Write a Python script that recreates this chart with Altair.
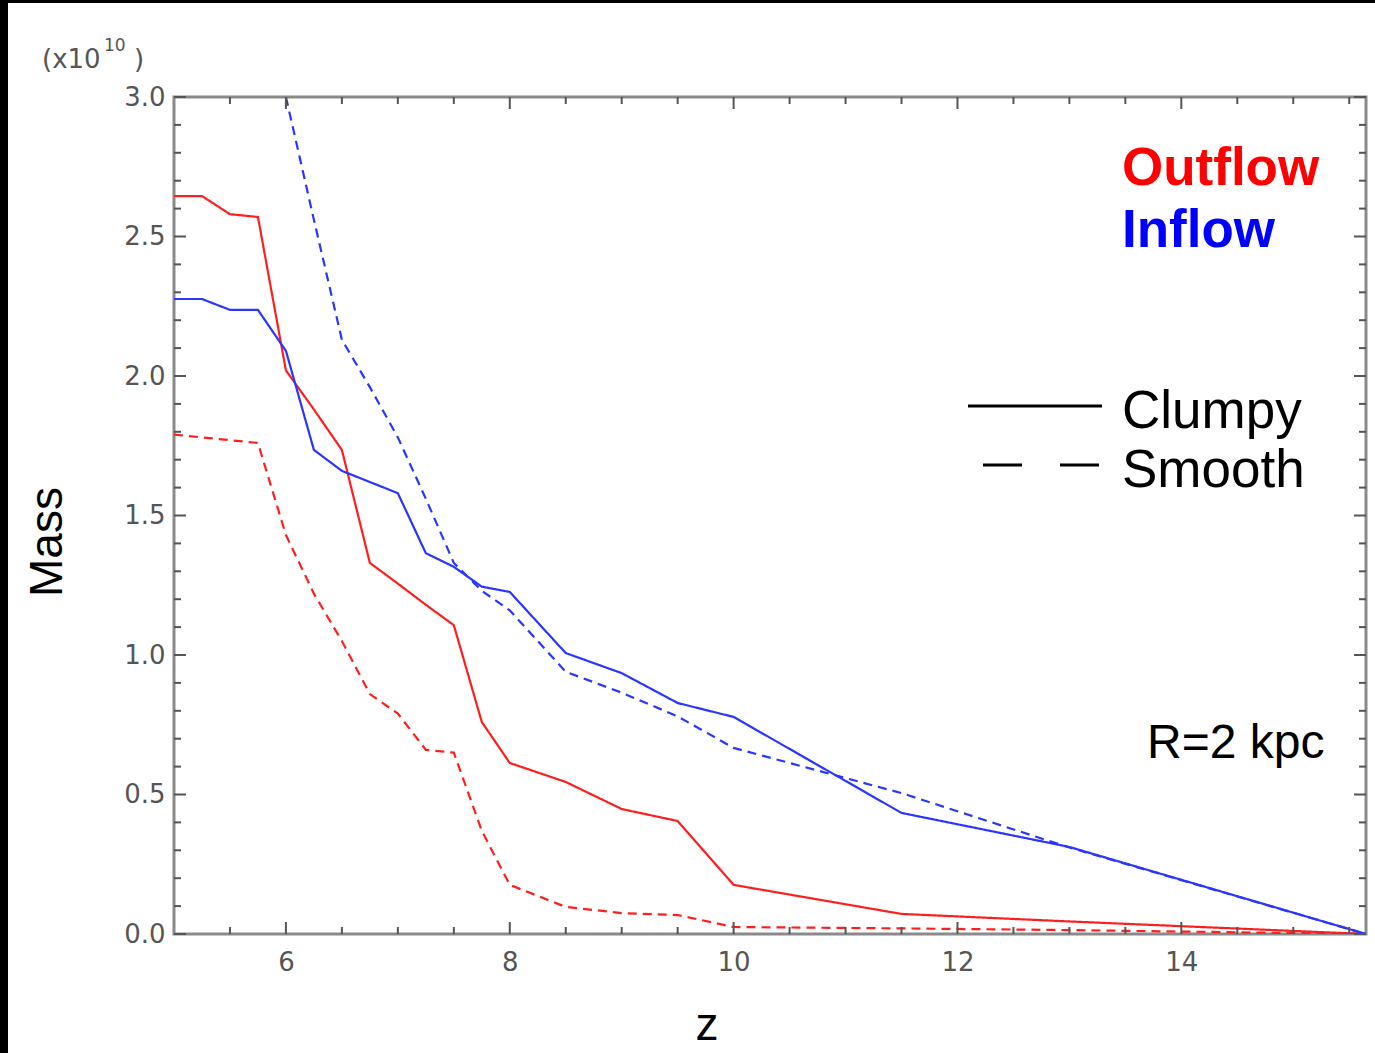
import altair as alt
import pandas as pd

# Redshift nodes of each track
z_out_clumpy = [5, 5.25, 5.5, 5.75, 6, 6.25, 6.5, 6.75, 7, 7.25, 7.5, 7.75, 8, 8.5, 9, 9.5, 10, 11.5, 13, 15.65]
m_out_clumpy = [2.645, 2.645, 2.58, 2.57, 2.02, 1.88, 1.735, 1.33, 1.256, 1.18, 1.107, 0.76, 0.613, 0.545, 0.448, 0.405, 0.176, 0.072, 0.045, 0.0]

z_out_smooth = [5, 5.25, 5.5, 5.75, 6, 6.25, 6.5, 6.75, 7, 7.25, 7.5, 7.75, 8, 8.5, 9, 9.5, 10, 11.5, 13, 15.65]
m_out_smooth = [1.79, 1.78, 1.77, 1.76, 1.43, 1.22, 1.05, 0.86, 0.79, 0.66, 0.65, 0.37, 0.176, 0.097, 0.075, 0.068, 0.025, 0.02, 0.014, 0.0]

z_in_clumpy = [5, 5.25, 5.5, 5.75, 6, 6.25, 6.5, 6.75, 7, 7.25, 7.5, 7.75, 8, 8.5, 9, 9.5, 10, 11.5, 13, 15.65]
m_in_clumpy = [2.276, 2.276, 2.237, 2.237, 2.09, 1.735, 1.66, 1.62, 1.58, 1.365, 1.316, 1.245, 1.226, 1.007, 0.935, 0.828, 0.778, 0.434, 0.312, 0.0]

z_in_smooth = [6, 6.25, 6.5, 6.75, 7, 7.25, 7.5, 7.75, 8, 8.5, 9, 9.5, 10, 11.5, 13, 15.65]
m_in_smooth = [3.0, 2.56, 2.13, 1.96, 1.78, 1.56, 1.33, 1.23, 1.16, 0.94, 0.865, 0.78, 0.667, 0.505, 0.31, 0.0]

# Axis tick positions
x_major = [6, 8, 10, 12, 14]
x_minor = [5.5, 6.5, 7, 7.5, 8.5, 9, 9.5, 10.5, 11, 11.5, 12.5, 13, 13.5, 14.5, 15, 15.5]
y_major = [0.0, 0.5, 1.0, 1.5, 2.0, 2.5, 3.0]
y_minor = [round(0.1 * i, 1) for i in range(31) if i % 5 != 0]

X_DOMAIN = [5, 15.65]
Y_DOMAIN = [0, 3.0]
W, H = 1192, 837
LEFT, TOP = 174, 97

RED = "#ff1e1e"
BLUE = "#2a36ff"
TICK = "#555555"
GREY_TEXT = "#555555"

rows = []
for flow, kind, zs, ms in [
    ("Outflow", "Clumpy", z_out_clumpy, m_out_clumpy),
    ("Outflow", "Smooth", z_out_smooth, m_out_smooth),
    ("Inflow", "Clumpy", z_in_clumpy, m_in_clumpy),
    ("Inflow", "Smooth", z_in_smooth, m_in_smooth),
]:
    for z, m in zip(zs, ms):
        rows.append({"z": z, "mass": m, "flow": flow, "kind": kind, "track": flow + " " + kind})
df = pd.DataFrame(rows)

xs = alt.Scale(domain=X_DOMAIN, nice=False, zero=False)
ys = alt.Scale(domain=Y_DOMAIN, nice=False, zero=False)

lab = dict(labelFont="DejaVu Sans", labelFontSize=26, labelColor=GREY_TEXT,
           ticks=False, domain=False, grid=False, title=None)

lines = alt.Chart(df).mark_line(strokeWidth=2.2, clip=True).encode(
    x=alt.X("z:Q", scale=xs, axis=alt.Axis(values=x_major, format="d", labelPadding=15, **lab)),
    y=alt.Y("mass:Q", scale=ys, axis=alt.Axis(values=y_major, format=".1f", labelPadding=9, **lab)),
    color=alt.Color("flow:N", scale=alt.Scale(domain=["Outflow", "Inflow"], range=[RED, BLUE]), legend=None),
    strokeDash=alt.StrokeDash("kind:N", scale=alt.Scale(domain=["Clumpy", "Smooth"], range=[[1, 0], [9, 6]]), legend=None),
    detail="track:N",
    order="z:Q",
)

def xticks(vals, length):
    d = pd.DataFrame({"v": vals})
    bottom = alt.Chart(d).mark_rule(color=TICK, strokeWidth=2).encode(
        x=alt.X("v:Q", scale=xs), y=alt.value(H), y2=alt.value(H - length))
    top = alt.Chart(d).mark_rule(color=TICK, strokeWidth=2).encode(
        x=alt.X("v:Q", scale=xs), y=alt.value(0), y2=alt.value(length))
    return [bottom, top]

def yticks(vals, length):
    d = pd.DataFrame({"v": vals})
    left = alt.Chart(d).mark_rule(color=TICK, strokeWidth=2).encode(
        y=alt.Y("v:Q", scale=ys), x=alt.value(0), x2=alt.value(length))
    right = alt.Chart(d).mark_rule(color=TICK, strokeWidth=2).encode(
        y=alt.Y("v:Q", scale=ys), x=alt.value(W - length), x2=alt.value(W))
    return [left, right]

ticks = xticks(x_major, 12) + xticks(x_minor, 7) + yticks(y_major, 12) + yticks(y_minor, 7)

def label(text, x, y, size, color="black", font="Liberation Sans", weight="normal",
          align="left", baseline="alphabetic", angle=0):
    return alt.Chart(pd.DataFrame({"t": [text]})).mark_text(
        font=font, fontSize=size, fontWeight=weight, color=color,
        align=align, baseline=baseline, angle=angle,
    ).encode(text="t:N", x=alt.value(x), y=alt.value(y))

texts = [
    label("Outflow", 948, 88, 53, "#ff0000", weight="bold"),
    label("Inflow", 948, 150, 53, "#0000ff", weight="bold"),
    label("Clumpy", 948, 331, 53),
    label("Smooth", 948, 390, 53),
    label("R=2 kpc", 973, 661, 48),
    label("Mass", 48 - LEFT, 542 - TOP, 46, align="center", baseline="middle", angle=270),
    label("z", 707 - LEFT, 1040 - TOP, 46, align="center"),
    label("(x10", 42 - LEFT, 68 - TOP, 26, GREY_TEXT, font="DejaVu Sans"),
    label("10", 104 - LEFT, 51 - TOP, 17, GREY_TEXT, font="DejaVu Sans"),
    label(")", 134 - LEFT, 68 - TOP, 26, GREY_TEXT, font="DejaVu Sans"),
]

one = pd.DataFrame({"k": [0]})
key_solid = alt.Chart(one).mark_rule(color="black", strokeWidth=3).encode(
    x=alt.value(794), x2=alt.value(928), y=alt.value(309))
key_dash = alt.Chart(one).mark_rule(color="black", strokeWidth=3, strokeDash=[39, 38]).encode(
    x=alt.value(809), x2=alt.value(925), y=alt.value(368))

# dark edge strips along the left and top of the page
edge_left = alt.Chart(one).mark_rect(color="black").encode(
    x=alt.value(-LEFT), x2=alt.value(-LEFT + 8), y=alt.value(-TOP), y2=alt.value(1053 - TOP))
edge_top = alt.Chart(one).mark_rect(color="black").encode(
    x=alt.value(-LEFT), x2=alt.value(1375 - LEFT), y=alt.value(-TOP), y2=alt.value(-TOP + 3))

chart = alt.layer(
    lines, *ticks, key_solid, key_dash, *texts, edge_left, edge_top
).properties(
    width=W, height=H,
    autosize=alt.AutoSizeParams(type="none"),
    padding={"left": LEFT, "top": TOP, "right": 1375 - LEFT - W, "bottom": 1053 - TOP - H},
    background="white",
).configure_view(
    stroke="#8a8a8a", strokeWidth=3,
)

chart.save("out.html", embed_options={"renderer": "svg", "actions": False})
